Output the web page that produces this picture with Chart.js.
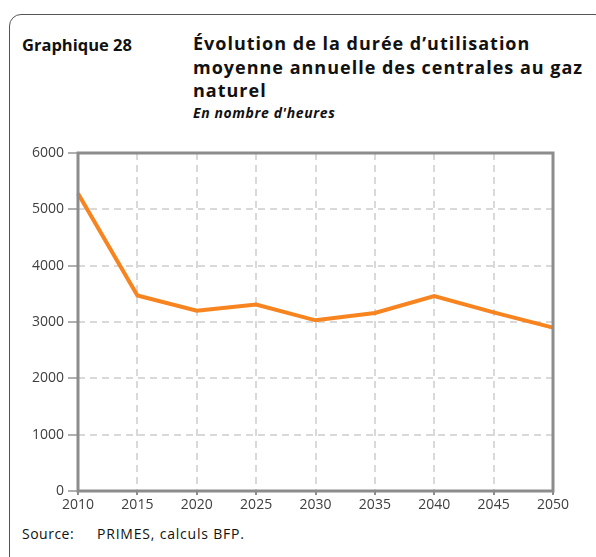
<!DOCTYPE html>
<html>
<head>
<meta charset="utf-8">
<script src="https://cdn.jsdelivr.net/npm/chart.js@4"></script>
<style>
  html, body { margin: 0; padding: 0; background: #fff; }
  body { width: 596px; height: 557px; position: relative; overflow: hidden; font-family: "Open Sans", "DejaVu Sans", sans-serif; color: #111; }
  #frame { position: absolute; left: 9px; top: 14px; width: 596px; height: 580px; border: 1px solid #555; border-radius: 12px; }
  #num { position: absolute; left: 22px; top: 33px; font-weight: bold; font-size: 16.5px; line-height: 24px; }
  #title { position: absolute; left: 193px; top: 32px; white-space: nowrap; font-weight: bold; font-size: 18px; line-height: 23.5px; letter-spacing: 1px; }
  #sub { position: absolute; left: 193px; top: 103px; font-weight: bold; font-style: italic; font-size: 14px; letter-spacing: 0.6px; }
  #src { position: absolute; left: 22px; top: 524px; font-size: 14px; letter-spacing: 0.5px; }
  #src span { position: absolute; left: 75px; white-space: nowrap; letter-spacing: 0.8px; }
  #wrap { position: absolute; left: 0; top: 0; width: 596px; height: 557px; }
</style>
</head>
<body>
<div id="frame"></div>
<div id="num">Graphique 28</div>
<div id="title">Évolution de la durée d’utilisation<br>moyenne annuelle des centrales au gaz<br>naturel</div>
<div id="sub">En nombre d'heures</div>
<div id="src">Source:<span>PRIMES, calculs BFP.</span></div>
<div id="wrap"><canvas id="chart"></canvas></div>
<script>
const years = ["2010", "2015", "2020", "2025", "2030", "2035", "2040", "2045", "2050"];
const hours = [5280, 3470, 3200, 3310, 3030, 3160, 3460, 3170, 2900];
const yTicks = [0, 1000, 2000, 3000, 4000, 5000, 6000];

// frame around the plot area (top and right sides too)
const boxPlugin = {
    id: "box",
    afterDatasetsDraw(chart) {
        const a = chart.chartArea;
        const ctx = chart.ctx;
        ctx.save();
        ctx.strokeStyle = "#8c8c8c";
        ctx.lineWidth = 3;
        ctx.strokeRect(a.left, a.top, a.right - a.left, a.bottom - a.top);
        ctx.restore();
    }
};

const ctx = document.getElementById("chart").getContext("2d");
const chart = new Chart(ctx, {
    type: "line",
    data: {
        labels: years,
        datasets: [{
            data: hours,
            borderColor: "#f7841f",
            borderWidth: 4,
            pointRadius: 0,
            tension: 0,
            clip: false
        }]
    },
    options: {
        responsive: true,
        maintainAspectRatio: false,
        animation: false,
        layout: { padding: { left: 0, top: 153, right: 43, bottom: 0 } },
        plugins: {
            legend: { display: false },
            tooltip: { enabled: false }
        },
        scales: {
            x: {
                offset: false,
                afterFit: s => { s.height = 66; },
                grid: {
                    color: "#d9d9d9",
                    lineWidth: 2,
                    tickLength: 4,
                    tickColor: "#8c8c8c",
                    tickBorderDash: []
                },
                border: { display: false, dash: [7, 5] },
                ticks: {
                    color: "#404040",
                    font: { family: "Open Sans", size: 14 },
                    maxRotation: 0,
                    autoSkip: false,
                    padding: 2
                }
            },
            y: {
                min: 0,
                max: 6000,
                afterFit: s => { s.width = 78; },
                afterBuildTicks: s => { s.ticks = yTicks.map(v => ({ value: v })); },
                grid: {
                    color: "#d9d9d9",
                    lineWidth: 2,
                    tickLength: 10,
                    tickColor: "#b0b0b0",
                    tickBorderDash: []
                },
                border: { display: false, dash: [7, 5] },
                ticks: {
                    color: "#404040",
                    font: { family: "Open Sans", size: 14 },
                    padding: 4,
                    callback: v => String(v)
                }
            }
        }
    },
    plugins: [boxPlugin]
});
</script>
</body>
</html>
